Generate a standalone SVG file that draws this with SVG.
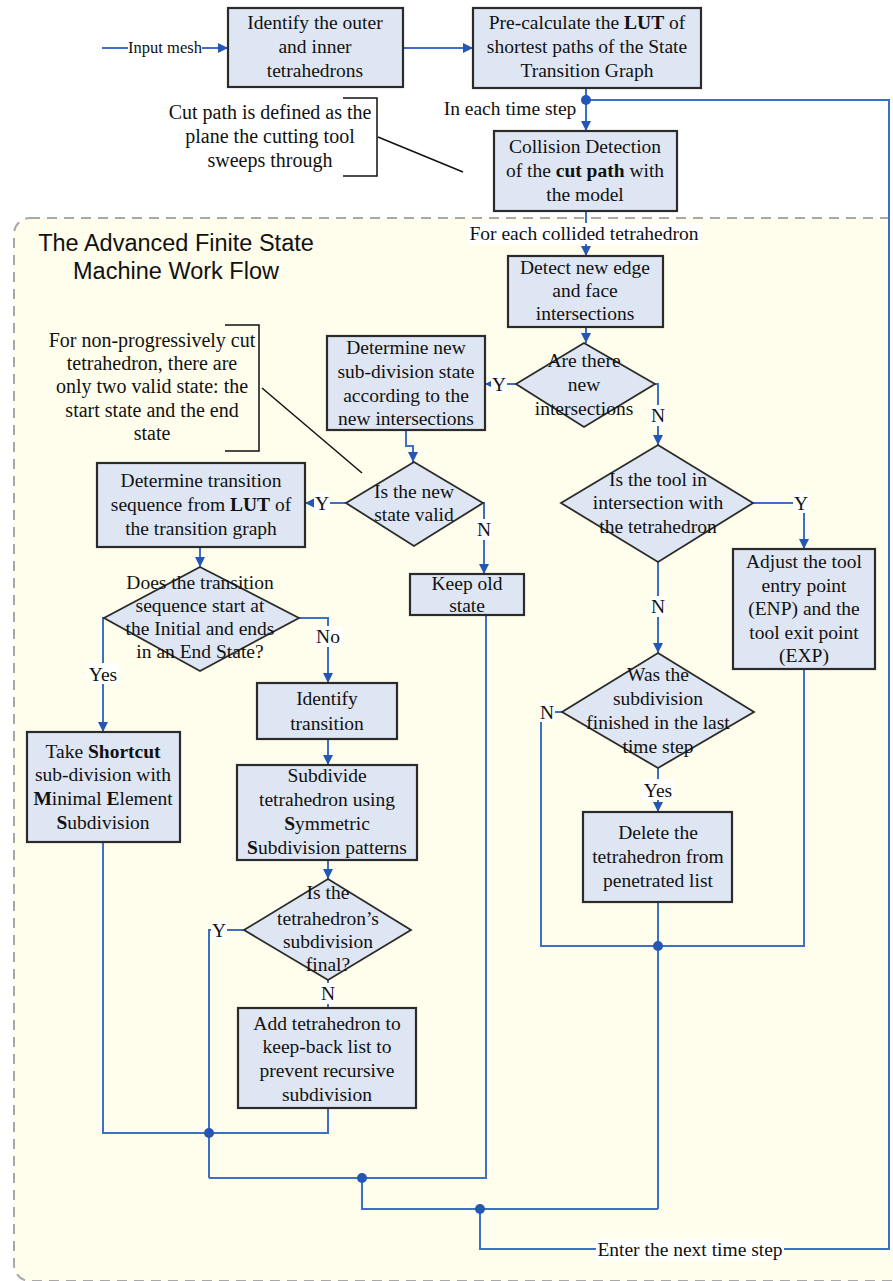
<svg xmlns="http://www.w3.org/2000/svg" width="893" height="1281" viewBox="0 0 893 1281">
<defs>
<marker id="ah" viewBox="0 0 10 10" refX="10" refY="5" markerWidth="10" markerHeight="10" markerUnits="userSpaceOnUse" orient="auto">
<path d="M0,0 L10,5 L0,10 z" fill="#2456b5"/>
</marker>
</defs>
<style>
.box{fill:#dfe6f3;stroke:#2b2b2b;stroke-width:2.2}
.dia{fill:#dfe6f3;stroke:#2b2b2b;stroke-width:1.8}
.t{font-family:"Liberation Serif","Times New Roman",serif;font-size:19.5px;fill:#111;text-anchor:middle}
.c{fill:none;stroke:#3d6fc6;stroke-width:2}
.a{marker-end:url(#ah)}
.dot{fill:#2456b5}
.lbl{font-family:"Liberation Serif","Times New Roman",serif;font-size:19.5px;fill:#111;text-anchor:middle}
.bg{fill:#ffffff}
.note{stroke:#111;stroke-width:1.5;fill:none}
.nt{font-family:"Liberation Serif","Times New Roman",serif;font-size:20px;fill:#111;text-anchor:middle}
.title{font-family:"Liberation Sans",Arial,sans-serif;font-size:23.5px;fill:#111;text-anchor:middle}
</style>
<rect x="0" y="0" width="893" height="1281" fill="#ffffff"/>
<rect id="container" x="14" y="218" width="900" height="1063" rx="16" fill="#fffdeb" stroke="#a8a8a8" stroke-width="2" stroke-dasharray="10 7"/>
<g id="title">
<text class="title" x="176" y="251">The Advanced Finite State</text>
<text class="title" x="176" y="279">Machine Work Flow</text>
</g>

<g id="connectors">
<path class="c a" d="M102,48 H228"/>
<path class="c a" d="M403,48 H473"/>
<path class="c a" d="M586,88 V131"/>
<path class="c" d="M586,100 H889 V1249 H480 V1209"/>
<path class="c a" d="M586,211 V256"/>
<path class="c a" d="M586,327 V343"/>
<path class="c a" d="M516,384 H485"/>
<path class="c a" d="M655,384 H658 V445"/>
<path class="c a" d="M406,430 V446 H413 V462"/>
<path class="c a" d="M346,503 H305"/>
<path class="c a" d="M483,503 H484 V574"/>
<path class="c" d="M486,615 V1178 H209"/>
<path class="c" d="M362,1178 V1209 H658"/>
<path class="c" d="M658,902 V1209"/>
<path class="c" d="M562,712 H541 V946 H804 V669"/>
<path class="c a" d="M753,503 H804 V549"/>
<path class="c a" d="M658,562 V653"/>
<path class="c a" d="M658,768 V812"/>
<path class="c a" d="M200,547 V567"/>
<path class="c a" d="M104,618 H103 V732"/>
<path class="c a" d="M299,618 H328 V683"/>
<path class="c a" d="M328,739 V765"/>
<path class="c a" d="M328,860 V879"/>
<path class="c" d="M244,930 H209 V1178"/>
<path class="c" d="M328,980 V1008"/>
<path class="c" d="M328,1108 V1133 H103 V842"/>
<circle class="dot" cx="586" cy="100" r="5"/>
<circle class="dot" cx="209" cy="1133" r="5"/>
<circle class="dot" cx="362" cy="1178" r="5"/>
<circle class="dot" cx="480" cy="1209" r="5"/>
<circle class="dot" cx="658" cy="946" r="5"/>
<g id="labels">
<rect class="bg" x="128" y="39" width="74" height="18"/>
<text class="lbl" x="165" y="53" style="font-size:16.5px">Input mesh</text>
<text class="lbl" x="510" y="115">In each time step</text>
<rect class="bg" x="467" y="223" width="234" height="21"/>
<text class="lbl" x="584" y="240">For each collided tetrahedron</text>
<rect class="bg" x="491" y="374" width="16" height="20"/>
<text class="lbl" x="499" y="391">Y</text>
<rect class="bg" x="650" y="405" width="16" height="21"/>
<text class="lbl" x="658" y="422">N</text>
<rect class="bg" x="314" y="493" width="16" height="20"/>
<text class="lbl" x="322" y="510">Y</text>
<rect class="bg" x="476" y="519" width="16" height="21"/>
<text class="lbl" x="484" y="536">N</text>
<rect class="bg" x="793" y="493" width="16" height="20"/>
<text class="lbl" x="801" y="510">Y</text>
<rect class="bg" x="650" y="596" width="16" height="21"/>
<text class="lbl" x="658" y="613">N</text>
<rect class="bg" x="539" y="702" width="16" height="20"/>
<text class="lbl" x="547" y="719">N</text>
<rect class="bg" x="642" y="779" width="32" height="21"/>
<text class="lbl" x="658" y="797">Yes</text>
<rect class="bg" x="87" y="663" width="32" height="21"/>
<text class="lbl" x="103" y="681">Yes</text>
<rect class="bg" x="313" y="626" width="30" height="21"/>
<text class="lbl" x="328" y="643">No</text>
<rect class="bg" x="211" y="920" width="16" height="20"/>
<text class="lbl" x="219" y="937">Y</text>
<rect class="bg" x="320" y="983" width="16" height="21"/>
<text class="lbl" x="328" y="1000">N</text>
<rect class="bg" x="596" y="1239" width="188" height="21"/>
<text class="lbl" x="690" y="1256">Enter the next time step</text>
</g>
</g>

<g id="note-cutpath">
<text class="nt"><tspan x="270" y="119">Cut path is defined as the</tspan><tspan x="270" y="143">plane the cutting tool</tspan><tspan x="270" y="167">sweeps through</tspan></text>
<path class="note" d="M343,98 H377 V176 H343"/>
<path class="note" d="M378,137 L463,172"/>
</g>

<g id="note-valid">
<text class="nt"><tspan x="152" y="347">For non-progressively cut</tspan><tspan x="152" y="370">tetrahedron, there are</tspan><tspan x="152" y="393">only two valid state: the</tspan><tspan x="152" y="417">start state and the end</tspan><tspan x="152" y="440">state</tspan></text>
<path class="note" d="M225,325 H259 V451 H225"/>
<path class="note" d="M262,388 L362,473"/>
</g>

<g id="n-identify">
<rect class="box" x="228" y="8" width="175" height="79"/>
<text class="t"><tspan x="315" y="29">Identify the outer</tspan><tspan x="315" y="53">and inner</tspan><tspan x="315" y="77">tetrahedrons</tspan></text>
</g>
<g id="n-precalc">
<rect class="box" x="473" y="8" width="228" height="80"/>
<text class="t"><tspan x="587" y="29">Pre-calculate the <tspan font-weight="bold">LUT</tspan> of</tspan><tspan x="587" y="53">shortest paths of the State</tspan><tspan x="587" y="77">Transition Graph</tspan></text>
</g>
<g id="n-collision">
<rect class="box" x="494" y="131" width="183" height="80"/>
<text class="t"><tspan x="585" y="153">Collision Detection</tspan><tspan x="585" y="177">of the <tspan font-weight="bold">cut path</tspan> with</tspan><tspan x="585" y="201">the model</tspan></text>
</g>
<g id="n-detect">
<rect class="box" x="508" y="256" width="155" height="71"/>
<text class="t"><tspan x="585" y="274">Detect new edge</tspan><tspan x="585" y="297">and face</tspan><tspan x="585" y="320">intersections</tspan></text>
</g>
<g id="n-arethere">
<polygon class="dia" points="584,343 655,384 584,427 516,384"/>
<text class="t"><tspan x="584" y="367">Are there</tspan><tspan x="584" y="391">new</tspan><tspan x="584" y="415">intersections</tspan></text>
</g>
<g id="n-newstate">
<rect class="box" x="327" y="336" width="158" height="94"/>
<text class="t"><tspan x="406" y="354">Determine new</tspan><tspan x="406" y="378">sub-division state</tspan><tspan x="406" y="402">according to the</tspan><tspan x="406" y="425">new intersections</tspan></text>
</g>
<g id="n-valid">
<polygon class="dia" points="414,462 483,503 414,546 346,503"/>
<text class="t"><tspan x="414" y="498">Is the new</tspan><tspan x="414" y="521">state valid</tspan></text>
</g>
<g id="n-keep">
<rect class="box" x="410" y="574" width="114" height="41"/>
<text class="t"><tspan x="467" y="590">Keep old</tspan><tspan x="467" y="612">state</tspan></text>
</g>
<g id="n-tool">
<polygon class="dia" points="658,445 753,503 658,562 561,503"/>
<text class="t"><tspan x="658" y="486">Is the tool in</tspan><tspan x="658" y="509">intersection with</tspan><tspan x="658" y="533">the tetrahedron</tspan></text>
</g>
<g id="n-adjust">
<rect class="box" x="733" y="549" width="142" height="120"/>
<text class="t"><tspan x="804" y="568">Adjust the tool</tspan><tspan x="804" y="592">entry point</tspan><tspan x="804" y="615">(ENP) and the</tspan><tspan x="804" y="639">tool exit point</tspan><tspan x="804" y="662">(EXP)</tspan></text>
</g>
<g id="n-finished">
<polygon class="dia" points="658,653 754,712 658,768 562,712"/>
<text class="t"><tspan x="658" y="681">Was the</tspan><tspan x="658" y="705">subdivision</tspan><tspan x="658" y="729">finished in the last</tspan><tspan x="658" y="753">time step</tspan></text>
</g>
<g id="n-delete">
<rect class="box" x="583" y="812" width="149" height="90"/>
<text class="t"><tspan x="658" y="839">Delete the</tspan><tspan x="658" y="863">tetrahedron from</tspan><tspan x="658" y="887">penetrated list</tspan></text>
</g>
<g id="n-sequence">
<rect class="box" x="97" y="463" width="208" height="84"/>
<text class="t"><tspan x="201" y="487">Determine transition</tspan><tspan x="201" y="511">sequence from <tspan font-weight="bold">LUT</tspan> of</tspan><tspan x="201" y="535">the transition graph</tspan></text>
</g>
<g id="n-startend">
<polygon class="dia" points="200,567 299,618 200,671 104,618"/>
<text class="t"><tspan x="200" y="589">Does the transition</tspan><tspan x="200" y="612">sequence start at</tspan><tspan x="200" y="635">the Initial and ends</tspan><tspan x="200" y="658">in an End State?</tspan></text>
</g>
<g id="n-shortcut">
<rect class="box" x="27" y="732" width="153" height="110"/>
<text class="t"><tspan x="103" y="758">Take <tspan font-weight="bold">Shortcut</tspan></tspan><tspan x="103" y="781">sub-division with</tspan><tspan x="103" y="805"><tspan font-weight="bold">M</tspan>inimal <tspan font-weight="bold">E</tspan>lement</tspan><tspan x="103" y="829"><tspan font-weight="bold">S</tspan>ubdivision</tspan></text>
</g>
<g id="n-identrans">
<rect class="box" x="257" y="683" width="140" height="56"/>
<text class="t"><tspan x="327" y="705">Identify</tspan><tspan x="327" y="730">transition</tspan></text>
</g>
<g id="n-subdivide">
<rect class="box" x="237" y="765" width="180" height="95"/>
<text class="t"><tspan x="327" y="782">Subdivide</tspan><tspan x="327" y="806">tetrahedron using</tspan><tspan x="327" y="830"><tspan font-weight="bold">S</tspan>ymmetric</tspan><tspan x="327" y="854"><tspan font-weight="bold">S</tspan>ubdivision patterns</tspan></text>
</g>
<g id="n-final">
<polygon class="dia" points="328,879 411,930 328,980 244,930"/>
<text class="t"><tspan x="328" y="899">Is the</tspan><tspan x="328" y="925">tetrahedron’s</tspan><tspan x="328" y="948">subdivision</tspan><tspan x="328" y="971">final?</tspan></text>
</g>
<g id="n-keepback">
<rect class="box" x="238" y="1008" width="178" height="100"/>
<text class="t"><tspan x="327" y="1030">Add tetrahedron to</tspan><tspan x="327" y="1053">keep-back list to</tspan><tspan x="327" y="1077">prevent recursive</tspan><tspan x="327" y="1101">subdivision</tspan></text>
</g>
</svg>
